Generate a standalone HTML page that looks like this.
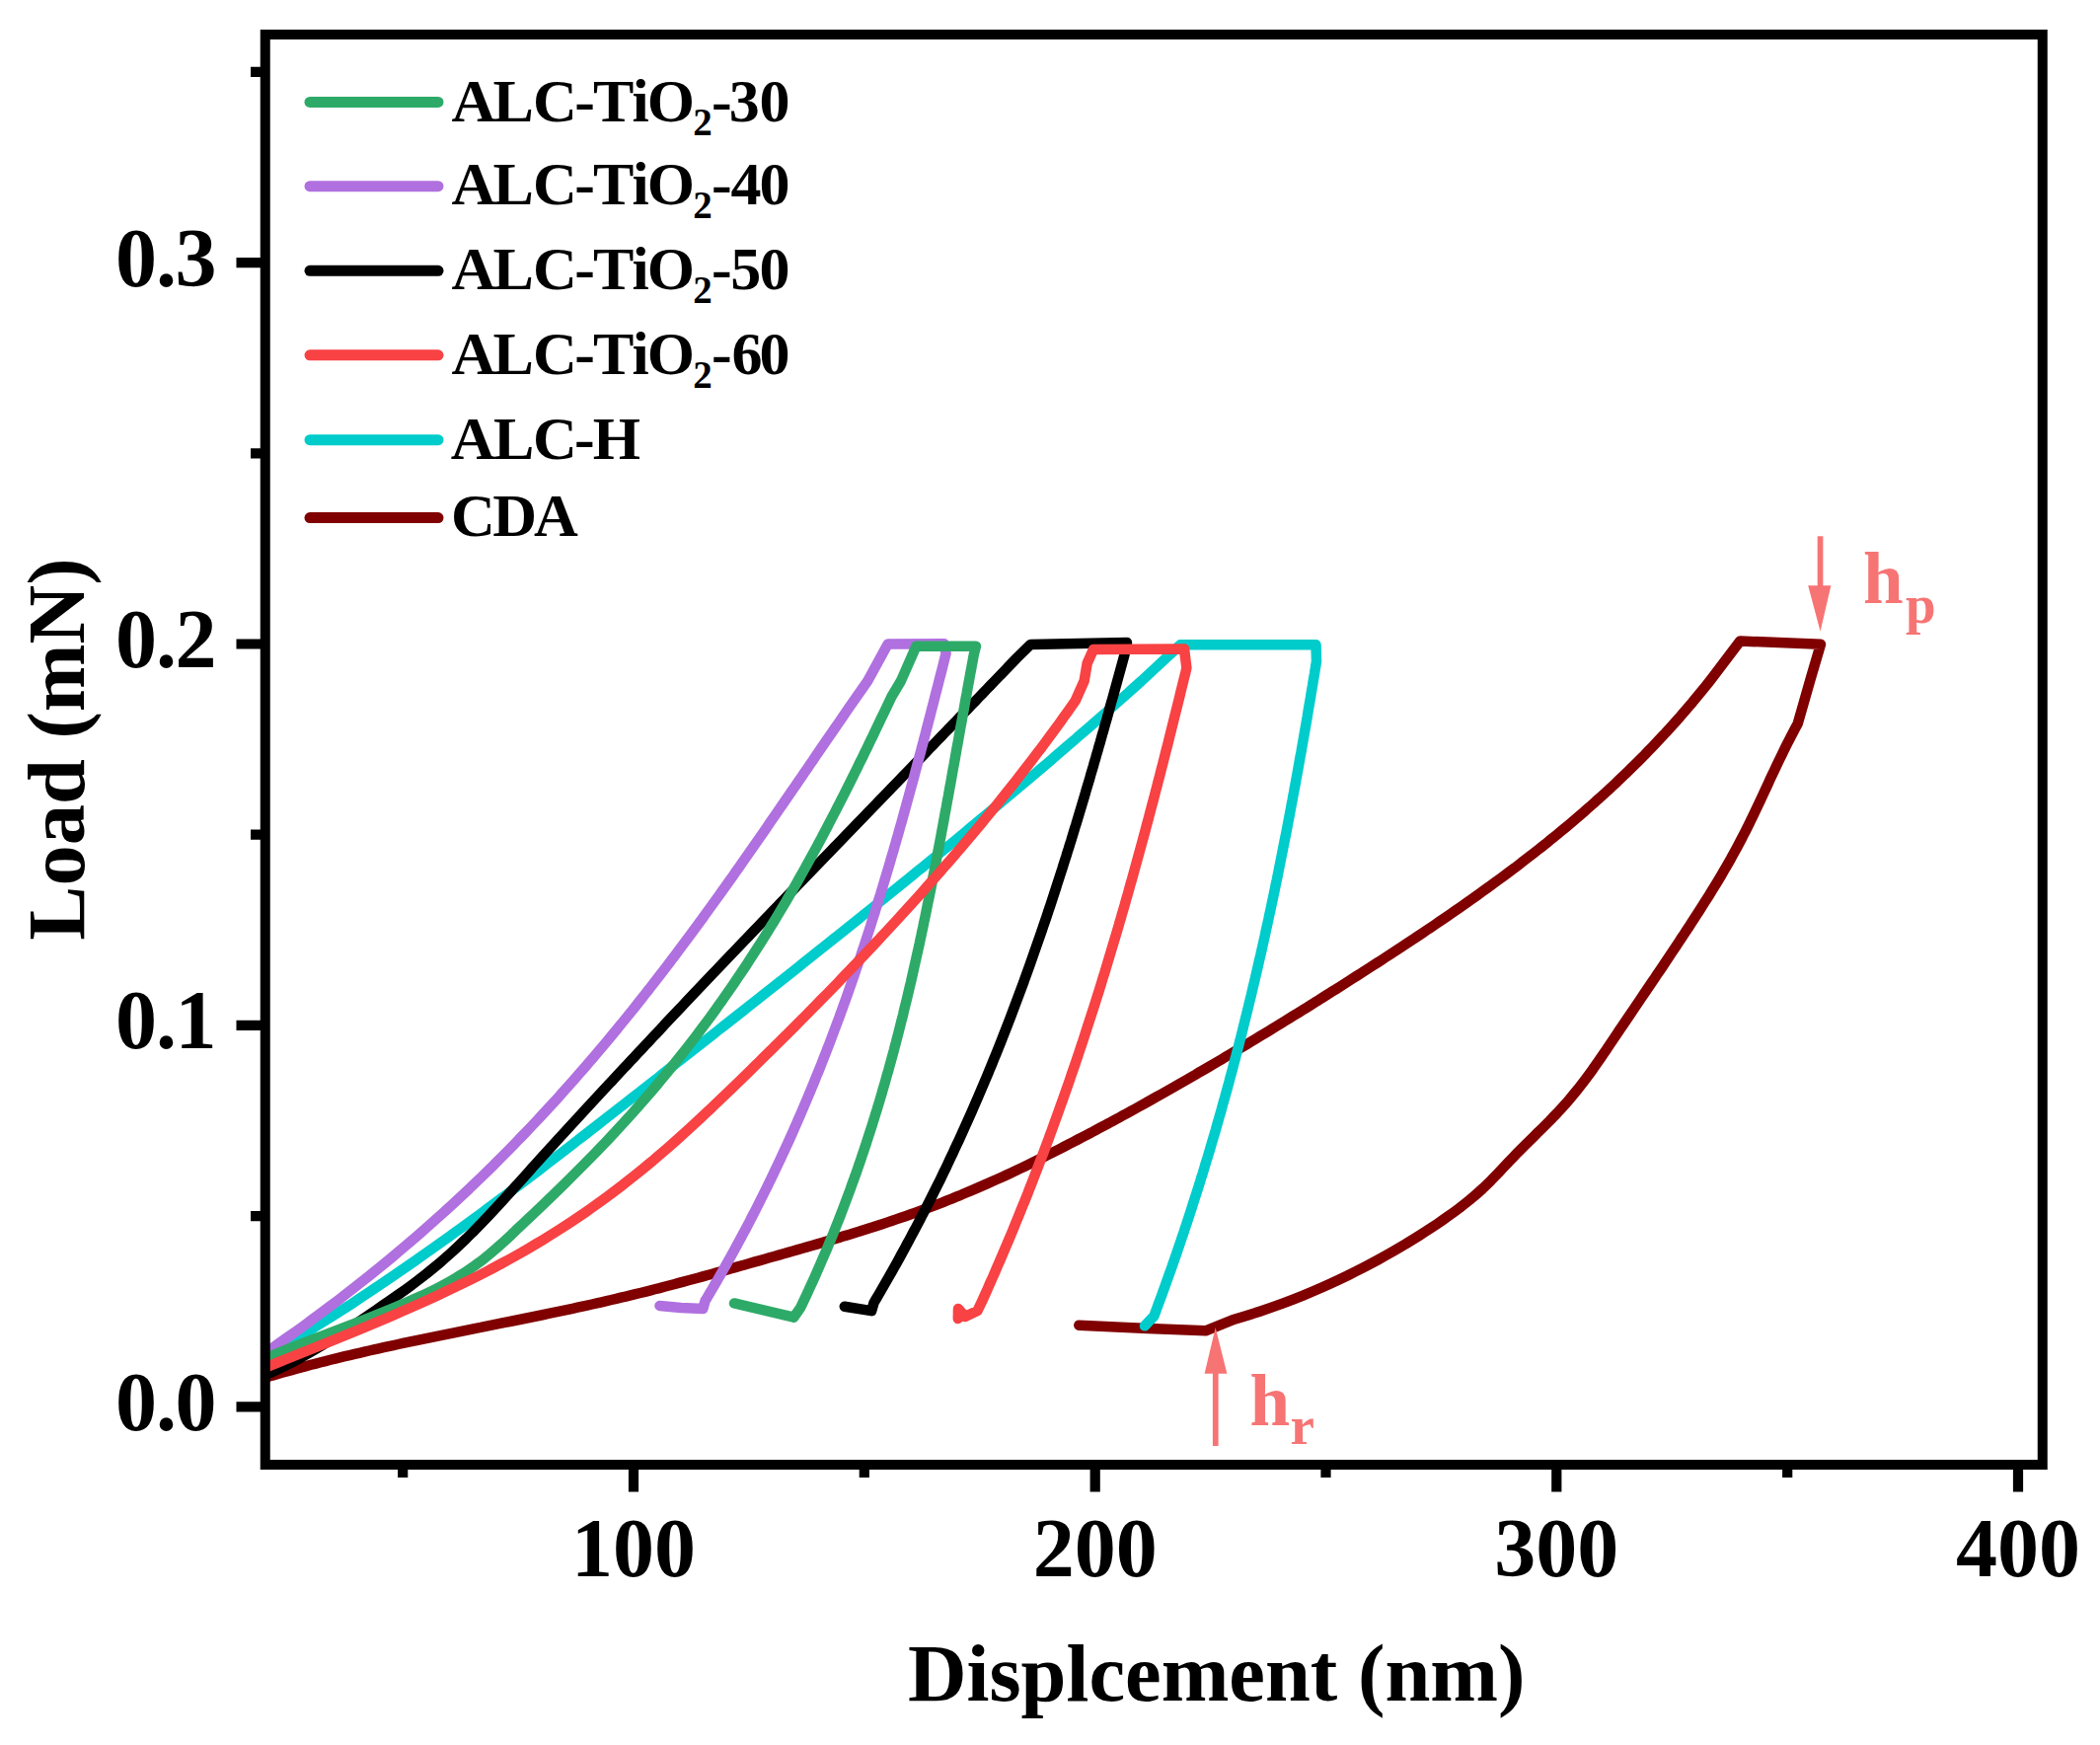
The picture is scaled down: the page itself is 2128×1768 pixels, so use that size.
<!DOCTYPE html>
<html><head><meta charset="utf-8"><title>Load-Displacement</title>
<style>html,body{margin:0;padding:0;background:#fff;overflow:hidden;}svg{display:block;}
text{font-family:'Liberation Serif', 'Times New Roman', serif;font-weight:bold;}</style></head>
<body><svg width="2128" height="1768" viewBox="0 0 2128 1768">
<rect width="2128" height="1768" fill="#fff"/>
<defs><clipPath id="pa"><rect x="269" y="35" width="1800" height="1449"/></clipPath></defs>

<g clip-path="url(#pa)" fill="none" stroke-width="10.5" stroke-linejoin="round" stroke-linecap="round">
<polyline stroke="#800000" points="261.4,1398.0 266.3,1396.5 271.2,1395.1 276.0,1393.6 280.9,1392.2 285.8,1390.8 290.7,1389.4 295.6,1388.1 300.5,1386.7 305.4,1385.4 310.3,1384.1 315.2,1382.8 320.1,1381.6 325.0,1380.3 329.9,1379.1 334.8,1377.8 339.7,1376.6 344.6,1375.4 349.5,1374.2 354.4,1373.1 359.3,1371.9 364.2,1370.8 369.1,1369.6 374.0,1368.5 378.9,1367.4 383.8,1366.3 388.8,1365.2 393.7,1364.1 398.6,1363.1 403.5,1362.0 408.4,1360.9 413.3,1359.9 418.2,1358.9 423.2,1357.8 428.1,1356.8 433.0,1355.8 437.9,1354.8 442.8,1353.8 447.7,1352.8 452.6,1351.8 457.6,1350.8 462.5,1349.8 467.4,1348.8 472.3,1347.8 477.2,1346.8 482.1,1345.8 487.1,1344.9 492.0,1343.9 496.9,1342.9 501.8,1341.9 506.7,1340.9 511.6,1339.9 516.5,1339.0 521.4,1338.0 526.4,1337.0 531.3,1336.0 536.2,1335.0 541.1,1334.0 546.0,1333.0 550.9,1332.0 555.8,1330.9 560.7,1329.9 565.6,1328.9 570.5,1327.9 575.4,1326.8 580.3,1325.8 585.2,1324.7 590.1,1323.6 595.0,1322.6 599.9,1321.5 604.8,1320.4 609.7,1319.3 614.6,1318.2 619.5,1317.0 624.4,1315.9 629.2,1314.7 634.1,1313.6 639.0,1312.4 643.9,1311.2 648.8,1310.0 653.7,1308.8 658.5,1307.6 663.4,1306.3 668.3,1305.1 673.1,1303.8 678.0,1302.5 682.9,1301.2 687.7,1299.9 692.6,1298.6 697.5,1297.3 702.3,1296.0 707.2,1294.7 712.0,1293.4 716.9,1292.0 721.7,1290.7 726.5,1289.3 731.4,1288.0 736.2,1286.6 741.1,1285.3 745.9,1283.9 750.7,1282.5 755.5,1281.2 760.4,1279.8 765.2,1278.4 770.0,1277.1 774.8,1275.7 779.6,1274.3 784.4,1273.0 789.2,1271.6 794.0,1270.2 798.8,1268.9 803.6,1267.5 808.4,1266.1 813.2,1264.7 818.0,1263.4 822.8,1262.0 827.6,1260.6 832.3,1259.2 837.1,1257.8 841.9,1256.4 846.6,1255.0 851.4,1253.6 856.1,1252.1 860.9,1250.7 865.6,1249.2 870.4,1247.8 875.1,1246.3 879.8,1244.8 884.6,1243.3 889.3,1241.7 894.0,1240.2 898.7,1238.6 903.5,1237.0 908.2,1235.4 912.9,1233.8 917.6,1232.2 922.3,1230.5 926.9,1228.8 931.6,1227.1 936.3,1225.4 941.0,1223.6 945.7,1221.9 950.3,1220.1 955.0,1218.3 959.6,1216.4 964.3,1214.6 968.9,1212.7 973.6,1210.8 978.2,1208.8 982.8,1206.9 987.5,1204.9 992.1,1202.9 996.7,1200.9 1001.3,1198.9 1005.9,1196.8 1010.5,1194.8 1015.1,1192.7 1019.7,1190.6 1024.3,1188.4 1028.9,1186.3 1033.4,1184.1 1038.0,1181.9 1042.6,1179.7 1047.1,1177.5 1051.7,1175.2 1056.2,1173.0 1060.7,1170.7 1065.3,1168.4 1069.8,1166.1 1074.3,1163.8 1078.8,1161.5 1083.3,1159.2 1087.8,1156.9 1092.3,1154.5 1096.8,1152.2 1101.3,1149.8 1105.8,1147.5 1110.2,1145.1 1114.7,1142.7 1119.1,1140.3 1123.6,1138.0 1128.0,1135.6 1132.5,1133.2 1136.9,1130.7 1141.4,1128.3 1145.8,1125.9 1150.2,1123.5 1154.6,1121.0 1159.0,1118.6 1163.4,1116.1 1167.8,1113.6 1172.2,1111.2 1176.6,1108.7 1181.0,1106.2 1185.4,1103.7 1189.8,1101.2 1194.1,1098.7 1198.5,1096.2 1202.9,1093.7 1207.2,1091.2 1211.6,1088.7 1215.9,1086.1 1220.3,1083.6 1224.6,1081.1 1229.0,1078.5 1233.3,1076.0 1237.7,1073.4 1242.0,1070.8 1246.3,1068.3 1250.6,1065.7 1255.0,1063.1 1259.3,1060.5 1263.6,1057.9 1267.9,1055.3 1272.2,1052.7 1276.5,1050.1 1280.8,1047.5 1285.1,1044.9 1289.4,1042.3 1293.7,1039.6 1298.0,1037.0 1302.2,1034.4 1306.5,1031.7 1310.8,1029.1 1315.1,1026.5 1319.3,1023.8 1323.6,1021.2 1327.9,1018.5 1332.1,1015.8 1336.4,1013.2 1340.6,1010.5 1344.9,1007.8 1349.1,1005.1 1353.4,1002.5 1357.6,999.8 1361.8,997.1 1366.1,994.4 1370.3,991.7 1374.5,989.0 1378.7,986.3 1382.9,983.6 1387.2,980.9 1391.4,978.2 1395.6,975.5 1399.8,972.8 1404.0,970.0 1408.1,967.3 1412.3,964.6 1416.5,961.8 1420.7,959.1 1424.8,956.4 1429.0,953.6 1433.2,950.9 1437.3,948.1 1441.5,945.3 1445.6,942.5 1449.7,939.8 1453.9,937.0 1458.0,934.2 1462.1,931.4 1466.2,928.6 1470.3,925.7 1474.4,922.9 1478.5,920.1 1482.6,917.2 1486.6,914.4 1490.7,911.5 1494.8,908.6 1498.8,905.7 1502.8,902.8 1506.9,899.9 1510.9,897.0 1514.9,894.1 1518.9,891.1 1522.9,888.2 1526.9,885.2 1530.9,882.2 1534.9,879.3 1538.8,876.3 1542.8,873.2 1546.7,870.2 1550.6,867.2 1554.6,864.1 1558.5,861.0 1562.4,858.0 1566.3,854.9 1570.1,851.7 1574.0,848.6 1577.9,845.5 1581.7,842.3 1585.6,839.1 1589.4,835.9 1593.2,832.7 1597.0,829.5 1600.8,826.2 1604.6,823.0 1608.3,819.7 1612.1,816.4 1615.8,813.1 1619.5,809.7 1623.3,806.4 1627.0,803.0 1630.7,799.6 1634.3,796.2 1638.0,792.8 1641.6,789.3 1645.3,785.8 1648.9,782.4 1652.5,778.8 1656.1,775.3 1659.7,771.7 1663.2,768.2 1666.8,764.6 1670.3,760.9 1673.8,757.3 1677.3,753.6 1680.8,749.9 1684.3,746.2 1687.8,742.5 1691.2,738.7 1694.6,734.9 1698.1,731.1 1701.5,727.3 1704.8,723.4 1708.2,719.5 1711.5,715.6 1714.9,711.7 1718.2,707.7 1721.5,703.7 1724.8,699.7 1728.0,695.7 1731.3,691.6 1734.5,687.5 1763.3,649.5 1845.0,652.7 1835.0,686.7 1821.7,733.3 1819.5,737.3 1817.4,741.3 1815.2,745.4 1813.2,749.4 1811.1,753.4 1809.1,757.4 1807.1,761.5 1805.2,765.5 1803.2,769.5 1801.3,773.5 1799.4,777.5 1797.5,781.6 1795.6,785.6 1793.7,789.6 1791.9,793.6 1790.0,797.7 1788.1,801.7 1786.3,805.7 1784.4,809.7 1782.5,813.8 1780.6,817.8 1778.7,821.8 1776.8,825.8 1774.8,829.8 1772.9,833.9 1770.9,837.9 1768.9,841.9 1766.8,845.9 1764.7,850.0 1762.6,854.0 1760.5,858.0 1758.3,862.0 1756.1,866.0 1753.9,870.1 1751.6,874.1 1749.3,878.1 1746.9,882.1 1744.6,886.2 1742.2,890.2 1739.8,894.2 1737.3,898.2 1734.8,902.3 1732.4,906.3 1729.8,910.3 1727.3,914.3 1724.8,918.3 1722.2,922.4 1719.6,926.4 1717.0,930.4 1714.4,934.4 1711.8,938.5 1709.1,942.5 1706.5,946.5 1703.8,950.5 1701.2,954.5 1698.5,958.6 1695.8,962.6 1693.1,966.6 1690.5,970.6 1687.8,974.7 1685.1,978.7 1682.4,982.7 1679.6,986.7 1676.9,990.8 1674.2,994.8 1671.5,998.8 1668.8,1002.8 1666.1,1006.8 1663.3,1010.9 1660.6,1014.9 1657.9,1018.9 1655.2,1022.9 1652.4,1027.0 1649.7,1031.0 1647.0,1035.0 1644.3,1039.0 1641.5,1043.0 1638.8,1047.1 1636.1,1051.1 1633.4,1055.1 1630.7,1059.1 1628.0,1063.2 1625.2,1067.2 1622.5,1071.2 1619.7,1075.2 1616.9,1079.2 1614.1,1083.3 1611.2,1087.3 1608.2,1091.3 1605.2,1095.3 1602.1,1099.4 1599.0,1103.4 1595.7,1107.4 1592.4,1111.4 1589.0,1115.5 1585.4,1119.5 1581.8,1123.5 1578.1,1127.5 1574.2,1131.5 1570.3,1135.6 1566.3,1139.6 1562.3,1143.6 1558.2,1147.6 1554.1,1151.7 1550.0,1155.7 1545.9,1159.7 1541.9,1163.7 1537.9,1167.7 1534.0,1171.8 1530.1,1175.8 1526.3,1179.8 1522.6,1183.8 1518.8,1187.9 1514.9,1191.9 1511.0,1195.9 1506.9,1199.9 1502.7,1204.0 1498.3,1208.0 1493.7,1212.0 1488.9,1216.0 1483.9,1220.0 1478.7,1224.1 1473.3,1228.1 1467.7,1232.1 1462.0,1236.1 1456.1,1240.2 1450.1,1244.2 1443.9,1248.2 1437.6,1252.2 1431.1,1256.2 1424.6,1260.3 1417.8,1264.3 1410.9,1268.3 1403.8,1272.3 1396.5,1276.4 1389.0,1280.4 1381.4,1284.4 1373.4,1288.4 1365.3,1292.5 1356.9,1296.5 1348.3,1300.5 1339.4,1304.5 1330.1,1308.5 1320.4,1312.6 1310.3,1316.6 1299.7,1320.6 1288.5,1324.6 1276.6,1328.7 1264.1,1332.7 1250.8,1336.7 1221.7,1348.3 1163.3,1346.0 1093.3,1342.7"/>
<polyline stroke="#00cccc" points="262.1,1377.0 269.5,1373.0 276.9,1369.0 284.1,1364.9 291.2,1360.9 298.2,1356.9 305.0,1352.9 311.8,1348.9 318.5,1344.9 325.0,1340.8 331.5,1336.8 337.9,1332.8 344.2,1328.8 350.5,1324.8 356.7,1320.8 362.8,1316.7 368.8,1312.7 374.9,1308.7 380.8,1304.7 386.8,1300.7 392.7,1296.6 398.6,1292.6 404.4,1288.6 410.2,1284.6 416.0,1280.6 421.8,1276.6 427.5,1272.5 433.2,1268.5 438.9,1264.5 444.5,1260.5 450.2,1256.5 455.8,1252.5 461.3,1248.4 466.9,1244.4 472.4,1240.4 477.9,1236.4 483.4,1232.4 488.9,1228.4 494.4,1224.3 499.8,1220.3 505.2,1216.3 510.6,1212.3 516.0,1208.3 521.3,1204.2 526.7,1200.2 532.0,1196.2 537.3,1192.2 542.6,1188.2 547.9,1184.2 553.1,1180.1 558.4,1176.1 563.6,1172.1 568.9,1168.1 574.1,1164.1 579.3,1160.1 584.5,1156.0 589.7,1152.0 594.9,1148.0 600.0,1144.0 605.2,1140.0 610.4,1135.9 615.5,1131.9 620.7,1127.9 625.8,1123.9 631.0,1119.9 636.1,1115.9 641.2,1111.8 646.4,1107.8 651.5,1103.8 656.6,1099.8 661.7,1095.8 666.9,1091.8 672.0,1087.7 677.1,1083.7 682.2,1079.7 687.4,1075.7 692.5,1071.7 697.6,1067.6 702.7,1063.6 707.8,1059.6 713.0,1055.6 718.1,1051.6 723.2,1047.6 728.3,1043.5 733.4,1039.5 738.5,1035.5 743.6,1031.5 748.7,1027.5 753.8,1023.5 758.9,1019.4 764.0,1015.4 769.1,1011.4 774.1,1007.4 779.2,1003.4 784.3,999.4 789.4,995.3 794.5,991.3 799.5,987.3 804.6,983.3 809.6,979.3 814.7,975.2 819.8,971.2 824.8,967.2 829.8,963.2 834.9,959.2 839.9,955.2 844.9,951.1 850.0,947.1 855.0,943.1 860.0,939.1 865.0,935.1 870.0,931.1 875.0,927.0 880.0,923.0 885.0,919.0 890.0,915.0 895.0,911.0 899.9,906.9 904.9,902.9 909.9,898.9 914.8,894.9 919.8,890.9 924.7,886.9 929.6,882.8 934.6,878.8 939.5,874.8 944.4,870.8 949.3,866.8 954.2,862.8 959.1,858.7 964.0,854.7 968.9,850.7 973.7,846.7 978.6,842.7 983.4,838.6 988.3,834.6 993.1,830.6 998.0,826.6 1002.8,822.6 1007.6,818.6 1012.4,814.5 1017.2,810.5 1022.0,806.5 1026.8,802.5 1031.5,798.5 1036.3,794.5 1041.1,790.4 1045.8,786.4 1050.5,782.4 1055.3,778.4 1060.0,774.4 1064.7,770.4 1069.4,766.3 1074.1,762.3 1078.7,758.3 1083.4,754.3 1088.1,750.3 1092.7,746.2 1097.3,742.2 1102.0,738.2 1106.6,734.2 1111.2,730.2 1115.8,726.2 1120.4,722.1 1124.9,718.1 1129.5,714.1 1134.0,710.1 1138.6,706.1 1143.1,702.1 1147.6,698.0 1152.1,694.0 1156.6,690.0 1196.0,653.3 1333.5,653.3 1334.0,670.0 1333.4,674.0 1332.7,678.0 1332.1,682.1 1331.4,686.1 1330.7,690.1 1330.1,694.1 1329.4,698.1 1328.7,702.2 1328.1,706.2 1327.4,710.2 1326.7,714.2 1326.0,718.2 1325.3,722.3 1324.7,726.3 1324.0,730.3 1323.3,734.3 1322.6,738.3 1321.9,742.4 1321.2,746.4 1320.5,750.4 1319.8,754.4 1319.1,758.4 1318.4,762.5 1317.6,766.5 1316.9,770.5 1316.2,774.5 1315.5,778.5 1314.8,782.6 1314.0,786.6 1313.3,790.6 1312.6,794.6 1311.8,798.6 1311.1,802.7 1310.3,806.7 1309.6,810.7 1308.8,814.7 1308.1,818.7 1307.3,822.8 1306.6,826.8 1305.8,830.8 1305.0,834.8 1304.3,838.8 1303.5,842.9 1302.7,846.9 1301.9,850.9 1301.1,854.9 1300.3,858.9 1299.5,863.0 1298.7,867.0 1297.9,871.0 1297.1,875.0 1296.3,879.0 1295.5,883.1 1294.7,887.1 1293.9,891.1 1293.0,895.1 1292.2,899.1 1291.4,903.2 1290.5,907.2 1289.7,911.2 1288.8,915.2 1288.0,919.2 1287.1,923.3 1286.2,927.3 1285.4,931.3 1284.5,935.3 1283.6,939.3 1282.7,943.4 1281.9,947.4 1281.0,951.4 1280.1,955.4 1279.2,959.4 1278.3,963.5 1277.4,967.5 1276.4,971.5 1275.5,975.5 1274.6,979.5 1273.7,983.6 1272.7,987.6 1271.8,991.6 1270.9,995.6 1269.9,999.6 1268.9,1003.7 1268.0,1007.7 1267.0,1011.7 1266.0,1015.7 1265.1,1019.7 1264.1,1023.8 1263.1,1027.8 1262.1,1031.8 1261.1,1035.8 1260.1,1039.8 1259.1,1043.9 1258.1,1047.9 1257.1,1051.9 1256.0,1055.9 1255.0,1059.9 1254.0,1064.0 1252.9,1068.0 1251.9,1072.0 1250.8,1076.0 1249.8,1080.0 1248.7,1084.1 1247.6,1088.1 1246.5,1092.1 1245.5,1096.1 1244.4,1100.1 1243.3,1104.2 1242.2,1108.2 1241.1,1112.2 1239.9,1116.2 1238.8,1120.2 1237.7,1124.3 1236.6,1128.3 1235.4,1132.3 1234.3,1136.3 1233.1,1140.3 1232.0,1144.4 1230.8,1148.4 1229.6,1152.4 1228.4,1156.4 1227.3,1160.4 1226.1,1164.5 1224.9,1168.5 1223.7,1172.5 1222.4,1176.5 1221.2,1180.5 1220.0,1184.6 1218.8,1188.6 1217.5,1192.6 1216.3,1196.6 1215.0,1200.6 1213.8,1204.7 1212.5,1208.7 1211.2,1212.7 1209.9,1216.7 1208.6,1220.7 1207.3,1224.8 1206.0,1228.8 1204.7,1232.8 1203.4,1236.8 1202.1,1240.8 1200.7,1244.9 1199.4,1248.9 1198.0,1252.9 1196.7,1256.9 1195.3,1260.9 1193.9,1265.0 1192.6,1269.0 1191.2,1273.0 1189.8,1277.0 1188.4,1281.0 1187.0,1285.1 1185.5,1289.1 1184.1,1293.1 1182.7,1297.1 1181.2,1301.1 1179.8,1305.2 1178.3,1309.2 1176.9,1313.2 1175.4,1317.2 1173.9,1321.2 1172.4,1325.3 1170.9,1329.3 1169.4,1333.3 1160.0,1343.3"/>
<polyline stroke="#000000" points="264.7,1395.0 273.8,1391.0 282.4,1387.0 290.6,1383.0 298.4,1379.0 305.8,1375.0 312.9,1371.0 319.8,1367.0 326.5,1363.0 333.0,1359.0 339.3,1355.0 345.5,1351.0 351.7,1347.0 357.7,1343.0 363.7,1339.0 369.7,1335.0 375.6,1331.0 381.5,1327.0 387.4,1322.9 393.3,1318.9 399.1,1314.9 404.8,1310.9 410.4,1306.9 415.9,1302.9 421.3,1298.9 426.5,1294.9 431.7,1290.9 436.6,1286.9 441.5,1282.9 446.2,1278.9 450.8,1274.9 455.4,1270.9 459.8,1266.9 464.1,1262.9 468.3,1258.9 472.5,1254.9 476.5,1250.9 480.6,1246.9 484.5,1242.9 488.4,1238.9 492.2,1234.9 496.0,1230.9 499.7,1226.9 503.4,1222.9 507.1,1218.9 510.7,1214.9 514.3,1210.9 517.9,1206.9 521.6,1202.9 525.2,1198.9 528.8,1194.9 532.4,1190.9 536.0,1186.9 539.6,1182.8 543.3,1178.8 546.9,1174.8 550.5,1170.8 554.2,1166.8 557.8,1162.8 561.5,1158.8 565.1,1154.8 568.8,1150.8 572.5,1146.8 576.1,1142.8 579.8,1138.8 583.5,1134.8 587.2,1130.8 590.8,1126.8 594.5,1122.8 598.2,1118.8 601.9,1114.8 605.6,1110.8 609.3,1106.8 613.0,1102.8 616.7,1098.8 620.5,1094.8 624.2,1090.8 627.9,1086.8 631.6,1082.8 635.4,1078.8 639.1,1074.8 642.9,1070.8 646.6,1066.8 650.4,1062.8 654.1,1058.8 657.9,1054.8 661.6,1050.8 665.4,1046.8 669.2,1042.8 672.9,1038.7 676.7,1034.7 680.5,1030.7 684.3,1026.7 688.1,1022.7 691.8,1018.7 695.6,1014.7 699.4,1010.7 703.2,1006.7 707.0,1002.7 710.8,998.7 714.6,994.7 718.4,990.7 722.2,986.7 726.1,982.7 729.9,978.7 733.7,974.7 737.5,970.7 741.3,966.7 745.2,962.7 749.0,958.7 752.8,954.7 756.7,950.7 760.5,946.7 764.3,942.7 768.2,938.7 772.0,934.7 775.8,930.7 779.7,926.7 783.5,922.7 787.4,918.7 791.2,914.7 795.1,910.7 798.9,906.7 802.8,902.7 806.6,898.6 810.5,894.6 814.3,890.6 818.2,886.6 822.1,882.6 825.9,878.6 829.8,874.6 833.6,870.6 837.5,866.6 841.4,862.6 845.2,858.6 849.1,854.6 853.0,850.6 856.8,846.6 860.7,842.6 864.6,838.6 868.4,834.6 872.3,830.6 876.2,826.6 880.0,822.6 883.9,818.6 887.8,814.6 891.6,810.6 895.5,806.6 899.4,802.6 903.2,798.6 907.1,794.6 911.0,790.6 914.8,786.6 918.7,782.6 922.6,778.6 926.4,774.6 930.3,770.6 934.2,766.6 938.0,762.6 941.9,758.5 945.8,754.5 949.6,750.5 953.5,746.5 957.3,742.5 961.2,738.5 965.1,734.5 968.9,730.5 972.8,726.5 976.6,722.5 980.5,718.5 984.3,714.5 988.2,710.5 992.0,706.5 995.9,702.5 999.7,698.5 1003.6,694.5 1007.4,690.5 1030.0,667.0 1044.3,653.0 1142.0,651.0 1139.5,663.3 1138.4,667.3 1137.3,671.3 1136.2,675.3 1135.1,679.3 1134.0,683.3 1132.9,687.3 1131.8,691.3 1130.7,695.3 1129.6,699.3 1128.5,703.3 1127.4,707.3 1126.2,711.4 1125.1,715.4 1124.0,719.4 1122.9,723.4 1121.8,727.4 1120.6,731.4 1119.5,735.4 1118.4,739.4 1117.2,743.4 1116.1,747.4 1115.0,751.4 1113.8,755.4 1112.7,759.4 1111.5,763.4 1110.4,767.4 1109.2,771.4 1108.1,775.4 1106.9,779.4 1105.7,783.4 1104.6,787.4 1103.4,791.4 1102.2,795.4 1101.0,799.4 1099.9,803.4 1098.7,807.5 1097.5,811.5 1096.3,815.5 1095.1,819.5 1093.9,823.5 1092.7,827.5 1091.5,831.5 1090.3,835.5 1089.0,839.5 1087.8,843.5 1086.6,847.5 1085.4,851.5 1084.1,855.5 1082.9,859.5 1081.6,863.5 1080.4,867.5 1079.1,871.5 1077.8,875.5 1076.6,879.5 1075.3,883.5 1074.0,887.5 1072.7,891.5 1071.4,895.5 1070.1,899.6 1068.8,903.6 1067.5,907.6 1066.2,911.6 1064.9,915.6 1063.6,919.6 1062.2,923.6 1060.9,927.6 1059.6,931.6 1058.2,935.6 1056.8,939.6 1055.5,943.6 1054.1,947.6 1052.7,951.6 1051.3,955.6 1049.9,959.6 1048.5,963.6 1047.1,967.6 1045.7,971.6 1044.3,975.6 1042.9,979.6 1041.4,983.6 1040.0,987.6 1038.5,991.6 1037.1,995.7 1035.6,999.7 1034.1,1003.7 1032.6,1007.7 1031.1,1011.7 1029.6,1015.7 1028.1,1019.7 1026.6,1023.7 1025.1,1027.7 1023.6,1031.7 1022.0,1035.7 1020.5,1039.7 1018.9,1043.7 1017.3,1047.7 1015.8,1051.7 1014.2,1055.7 1012.6,1059.7 1011.0,1063.7 1009.4,1067.7 1007.7,1071.7 1006.1,1075.7 1004.5,1079.7 1002.8,1083.7 1001.2,1087.8 999.5,1091.8 997.8,1095.8 996.1,1099.8 994.4,1103.8 992.7,1107.8 991.0,1111.8 989.2,1115.8 987.5,1119.8 985.8,1123.8 984.0,1127.8 982.2,1131.8 980.4,1135.8 978.6,1139.8 976.8,1143.8 975.0,1147.8 973.2,1151.8 971.4,1155.8 969.5,1159.8 967.6,1163.8 965.8,1167.8 963.9,1171.8 962.0,1175.8 960.1,1179.9 958.2,1183.9 956.2,1187.9 954.3,1191.9 952.4,1195.9 950.4,1199.9 948.4,1203.9 946.4,1207.9 944.4,1211.9 942.4,1215.9 940.4,1219.9 938.3,1223.9 936.3,1227.9 934.2,1231.9 932.2,1235.9 930.1,1239.9 928.0,1243.9 925.8,1247.9 923.7,1251.9 921.6,1255.9 919.4,1259.9 917.3,1263.9 915.1,1267.9 912.9,1271.9 910.7,1276.0 908.5,1280.0 906.2,1284.0 904.0,1288.0 901.7,1292.0 899.4,1296.0 897.1,1300.0 894.8,1304.0 892.5,1308.0 890.2,1312.0 887.8,1316.0 885.5,1320.0 883.2,1328.1 855.8,1323.7"/>
<polyline stroke="#b070df" points="265.4,1373.0 271.3,1369.0 277.1,1365.0 282.9,1360.9 288.6,1356.9 294.3,1352.9 299.9,1348.9 305.5,1344.9 311.0,1340.9 316.5,1336.8 322.0,1332.8 327.4,1328.8 332.7,1324.8 338.1,1320.8 343.3,1316.8 348.6,1312.7 353.8,1308.7 358.9,1304.7 364.0,1300.7 369.1,1296.7 374.2,1292.6 379.1,1288.6 384.1,1284.6 389.0,1280.6 393.9,1276.6 398.7,1272.6 403.5,1268.5 408.3,1264.5 413.0,1260.5 417.7,1256.5 422.4,1252.5 427.0,1248.5 431.6,1244.4 436.1,1240.4 440.6,1236.4 445.1,1232.4 449.6,1228.4 454.0,1224.3 458.4,1220.3 462.7,1216.3 467.0,1212.3 471.3,1208.3 475.6,1204.3 479.8,1200.2 484.0,1196.2 488.2,1192.2 492.3,1188.2 496.4,1184.2 500.5,1180.2 504.5,1176.1 508.5,1172.1 512.5,1168.1 516.5,1164.1 520.4,1160.1 524.3,1156.0 528.2,1152.0 532.1,1148.0 535.9,1144.0 539.7,1140.0 543.5,1136.0 547.3,1131.9 551.0,1127.9 554.7,1123.9 558.4,1119.9 562.1,1115.9 565.7,1111.9 569.3,1107.8 572.9,1103.8 576.5,1099.8 580.1,1095.8 583.6,1091.8 587.1,1087.7 590.6,1083.7 594.1,1079.7 597.5,1075.7 601.0,1071.7 604.4,1067.7 607.8,1063.6 611.2,1059.6 614.6,1055.6 617.9,1051.6 621.2,1047.6 624.5,1043.6 627.8,1039.5 631.1,1035.5 634.4,1031.5 637.6,1027.5 640.9,1023.5 644.1,1019.4 647.3,1015.4 650.5,1011.4 653.6,1007.4 656.8,1003.4 659.9,999.4 663.1,995.3 666.2,991.3 669.3,987.3 672.4,983.3 675.4,979.3 678.5,975.3 681.5,971.2 684.6,967.2 687.6,963.2 690.6,959.2 693.6,955.2 696.6,951.1 699.6,947.1 702.5,943.1 705.5,939.1 708.4,935.1 711.4,931.1 714.3,927.0 717.2,923.0 720.1,919.0 723.0,915.0 725.9,911.0 728.8,907.0 731.7,902.9 734.5,898.9 737.4,894.9 740.3,890.9 743.1,886.9 745.9,882.8 748.8,878.8 751.6,874.8 754.4,870.8 757.2,866.8 760.0,862.8 762.8,858.7 765.6,854.7 768.4,850.7 771.2,846.7 774.0,842.7 776.8,838.7 779.5,834.6 782.3,830.6 785.1,826.6 787.8,822.6 790.6,818.6 793.4,814.5 796.1,810.5 798.9,806.5 801.6,802.5 804.4,798.5 807.2,794.5 809.9,790.4 812.7,786.4 815.4,782.4 818.2,778.4 820.9,774.4 823.7,770.4 826.4,766.3 829.2,762.3 831.9,758.3 834.7,754.3 837.4,750.3 840.2,746.2 843.0,742.2 845.7,738.2 848.5,734.2 851.3,730.2 854.0,726.2 856.8,722.1 859.6,718.1 862.4,714.1 865.2,710.1 868.0,706.1 870.8,702.1 873.6,698.0 876.4,694.0 879.2,690.0 899.7,652.5 956.5,652.2 958.6,662.0 957.6,666.0 956.6,670.0 955.6,674.0 954.6,678.0 953.6,682.0 952.5,686.0 951.5,690.0 950.5,694.0 949.5,698.0 948.4,702.0 947.4,706.0 946.4,710.0 945.4,714.0 944.3,718.0 943.3,722.0 942.3,726.0 941.2,730.0 940.2,734.0 939.1,738.0 938.1,742.0 937.1,746.0 936.0,750.0 935.0,754.0 933.9,758.0 932.9,762.0 931.8,766.0 930.7,770.0 929.7,774.0 928.6,778.0 927.5,782.0 926.5,786.0 925.4,790.0 924.3,794.0 923.2,798.0 922.1,802.0 921.0,806.0 919.9,810.0 918.8,814.0 917.7,818.0 916.6,822.0 915.5,826.0 914.4,830.0 913.3,834.0 912.1,838.0 911.0,842.0 909.9,846.0 908.7,850.0 907.6,854.0 906.4,858.0 905.3,862.0 904.1,866.0 902.9,870.0 901.8,874.0 900.6,878.0 899.4,882.0 898.2,886.0 897.0,890.0 895.8,894.0 894.6,898.0 893.4,902.0 892.2,906.0 890.9,910.0 889.7,914.0 888.5,918.0 887.2,922.0 886.0,926.0 884.7,930.0 883.4,934.0 882.2,938.0 880.9,942.0 879.6,946.0 878.3,950.0 877.0,954.0 875.7,958.0 874.4,962.0 873.0,966.0 871.7,970.0 870.4,974.0 869.0,978.0 867.6,982.0 866.3,986.0 864.9,990.0 863.5,994.0 862.1,998.0 860.7,1002.0 859.3,1006.0 857.9,1010.0 856.5,1014.0 855.0,1018.0 853.6,1022.0 852.1,1026.0 850.7,1030.0 849.2,1034.0 847.7,1038.0 846.2,1042.0 844.7,1046.0 843.2,1050.0 841.7,1054.0 840.2,1058.0 838.6,1062.0 837.1,1066.0 835.5,1070.0 833.9,1074.0 832.4,1078.0 830.8,1082.0 829.2,1086.0 827.5,1090.0 825.9,1094.0 824.3,1098.0 822.6,1102.0 821.0,1106.0 819.3,1110.0 817.6,1114.0 815.9,1118.0 814.2,1122.0 812.5,1126.0 810.8,1130.0 809.0,1134.0 807.3,1138.0 805.5,1142.0 803.8,1146.0 802.0,1150.0 800.2,1154.0 798.4,1158.0 796.5,1162.0 794.7,1166.0 792.8,1170.0 791.0,1174.0 789.1,1178.0 787.2,1182.0 785.3,1186.0 783.4,1190.0 781.5,1194.0 779.5,1198.0 777.6,1202.0 775.6,1206.0 773.6,1210.0 771.6,1214.0 769.6,1218.0 767.6,1222.0 765.6,1226.0 763.5,1230.0 761.4,1234.0 759.4,1238.0 757.3,1242.0 755.2,1246.0 753.0,1250.0 750.9,1254.0 748.7,1258.0 746.6,1262.0 744.4,1266.0 742.2,1270.0 740.0,1274.0 737.7,1278.0 735.5,1282.0 733.2,1286.0 731.0,1290.0 728.7,1294.0 726.4,1298.0 724.0,1302.0 721.7,1306.0 719.3,1310.0 717.0,1314.0 714.6,1318.0 712.3,1326.0 690.0,1325.0 668.5,1323.0"/>
<polyline stroke="#2eaa68" points="261.9,1379.0 271.6,1375.0 281.5,1371.0 291.7,1367.0 302.0,1363.0 312.4,1359.0 322.9,1355.0 333.4,1350.9 343.9,1346.9 354.3,1342.9 364.7,1338.9 374.9,1334.9 384.9,1330.9 394.8,1326.9 404.4,1322.9 413.7,1318.9 422.7,1314.9 431.4,1310.9 439.7,1306.9 447.6,1302.9 455.0,1298.8 462.0,1294.8 468.5,1290.8 474.6,1286.8 480.4,1282.8 485.9,1278.8 491.1,1274.8 496.0,1270.8 500.7,1266.8 505.3,1262.8 509.7,1258.8 514.1,1254.8 518.4,1250.8 522.6,1246.7 526.9,1242.7 531.1,1238.7 535.4,1234.7 539.6,1230.7 543.8,1226.7 548.0,1222.7 552.2,1218.7 556.3,1214.7 560.5,1210.7 564.6,1206.7 568.7,1202.7 572.8,1198.7 576.9,1194.6 580.9,1190.6 584.9,1186.6 588.9,1182.6 592.9,1178.6 596.8,1174.6 600.8,1170.6 604.7,1166.6 608.5,1162.6 612.4,1158.6 616.2,1154.6 619.9,1150.6 623.7,1146.6 627.4,1142.5 631.1,1138.5 634.7,1134.5 638.4,1130.5 642.0,1126.5 645.5,1122.5 649.0,1118.5 652.5,1114.5 656.0,1110.5 659.5,1106.5 662.9,1102.5 666.3,1098.5 669.6,1094.5 673.0,1090.4 676.3,1086.4 679.5,1082.4 682.8,1078.4 686.0,1074.4 689.2,1070.4 692.4,1066.4 695.5,1062.4 698.6,1058.4 701.7,1054.4 704.8,1050.4 707.8,1046.4 710.8,1042.3 713.8,1038.3 716.8,1034.3 719.8,1030.3 722.7,1026.3 725.6,1022.3 728.4,1018.3 731.3,1014.3 734.1,1010.3 736.9,1006.3 739.7,1002.3 742.5,998.3 745.2,994.3 747.9,990.2 750.6,986.2 753.3,982.2 756.0,978.2 758.6,974.2 761.2,970.2 763.8,966.2 766.4,962.2 769.0,958.2 771.5,954.2 774.0,950.2 776.5,946.2 779.0,942.2 781.5,938.1 784.0,934.1 786.4,930.1 788.8,926.1 791.2,922.1 793.6,918.1 796.0,914.1 798.3,910.1 800.6,906.1 803.0,902.1 805.3,898.1 807.6,894.1 809.8,890.1 812.1,886.0 814.4,882.0 816.6,878.0 818.8,874.0 821.0,870.0 823.2,866.0 825.4,862.0 827.6,858.0 829.7,854.0 831.9,850.0 834.0,846.0 836.1,842.0 838.2,838.0 840.3,833.9 842.4,829.9 844.5,825.9 846.6,821.9 848.6,817.9 850.7,813.9 852.7,809.9 854.8,805.9 856.8,801.9 858.8,797.9 860.8,793.9 862.8,789.9 864.8,785.9 866.8,781.8 868.8,777.8 870.7,773.8 872.7,769.8 874.7,765.8 876.6,761.8 878.6,757.8 880.5,753.8 882.4,749.8 884.4,745.8 886.3,741.8 888.2,737.8 890.1,733.8 892.0,729.7 894.0,725.7 895.9,721.7 897.8,717.7 899.7,713.7 901.6,709.7 903.5,705.7 912.9,690.0 928.5,654.7 989.0,654.7 987.1,662.0 986.3,666.0 985.6,670.0 984.8,674.1 984.1,678.1 983.3,682.1 982.6,686.1 981.9,690.1 981.1,694.1 980.4,698.2 979.7,702.2 978.9,706.2 978.2,710.2 977.5,714.2 976.8,718.3 976.0,722.3 975.3,726.3 974.6,730.3 973.9,734.3 973.1,738.3 972.4,742.4 971.7,746.4 971.0,750.4 970.3,754.4 969.5,758.4 968.8,762.5 968.1,766.5 967.4,770.5 966.7,774.5 965.9,778.5 965.2,782.5 964.5,786.6 963.8,790.6 963.1,794.6 962.3,798.6 961.6,802.6 960.9,806.7 960.1,810.7 959.4,814.7 958.7,818.7 957.9,822.7 957.2,826.7 956.5,830.8 955.7,834.8 955.0,838.8 954.2,842.8 953.5,846.8 952.7,850.9 952.0,854.9 951.2,858.9 950.5,862.9 949.7,866.9 948.9,870.9 948.2,875.0 947.4,879.0 946.6,883.0 945.8,887.0 945.0,891.0 944.3,895.1 943.5,899.1 942.7,903.1 941.9,907.1 941.1,911.1 940.2,915.1 939.4,919.2 938.6,923.2 937.8,927.2 937.0,931.2 936.1,935.2 935.3,939.3 934.4,943.3 933.6,947.3 932.7,951.3 931.9,955.3 931.0,959.3 930.1,963.4 929.2,967.4 928.3,971.4 927.4,975.4 926.5,979.4 925.6,983.5 924.7,987.5 923.8,991.5 922.9,995.5 921.9,999.5 921.0,1003.5 920.0,1007.6 919.1,1011.6 918.1,1015.6 917.1,1019.6 916.1,1023.6 915.2,1027.7 914.2,1031.7 913.1,1035.7 912.1,1039.7 911.1,1043.7 910.1,1047.7 909.0,1051.8 908.0,1055.8 906.9,1059.8 905.9,1063.8 904.8,1067.8 903.7,1071.9 902.6,1075.9 901.5,1079.9 900.4,1083.9 899.2,1087.9 898.1,1091.9 897.0,1096.0 895.8,1100.0 894.6,1104.0 893.5,1108.0 892.3,1112.0 891.1,1116.1 889.9,1120.1 888.7,1124.1 887.4,1128.1 886.2,1132.1 884.9,1136.1 883.7,1140.2 882.4,1144.2 881.1,1148.2 879.8,1152.2 878.5,1156.2 877.2,1160.3 875.8,1164.3 874.5,1168.3 873.1,1172.3 871.8,1176.3 870.4,1180.3 869.0,1184.4 867.6,1188.4 866.1,1192.4 864.7,1196.4 863.2,1200.4 861.8,1204.5 860.3,1208.5 858.8,1212.5 857.3,1216.5 855.8,1220.5 854.3,1224.5 852.7,1228.6 851.2,1232.6 849.6,1236.6 848.0,1240.6 846.4,1244.6 844.8,1248.7 843.1,1252.7 841.5,1256.7 839.8,1260.7 838.2,1264.7 836.5,1268.7 834.7,1272.8 833.0,1276.8 831.3,1280.8 829.5,1284.8 827.8,1288.8 826.0,1292.9 824.2,1296.9 822.3,1300.9 820.5,1304.9 818.7,1308.9 816.8,1312.9 814.9,1317.0 813.0,1321.0 811.1,1325.0 804.3,1334.7 744.0,1320.4"/>
<polyline stroke="#f84244" points="260.0,1389.0 270.1,1385.0 280.2,1381.0 290.3,1376.9 300.3,1372.9 310.3,1368.9 320.3,1364.9 330.2,1360.9 340.1,1356.9 349.9,1352.8 359.7,1348.8 369.4,1344.8 378.9,1340.8 388.4,1336.8 397.8,1332.8 407.1,1328.7 416.3,1324.7 425.4,1320.7 434.3,1316.7 443.1,1312.7 451.7,1308.6 460.2,1304.6 468.5,1300.6 476.7,1296.6 484.7,1292.6 492.5,1288.6 500.2,1284.5 507.7,1280.5 515.1,1276.5 522.3,1272.5 529.4,1268.5 536.3,1264.4 543.1,1260.4 549.8,1256.4 556.3,1252.4 562.7,1248.4 569.0,1244.4 575.2,1240.3 581.3,1236.3 587.2,1232.3 593.1,1228.3 598.9,1224.3 604.5,1220.3 610.1,1216.2 615.6,1212.2 620.9,1208.2 626.2,1204.2 631.5,1200.2 636.6,1196.1 641.7,1192.1 646.7,1188.1 651.7,1184.1 656.5,1180.1 661.4,1176.1 666.1,1172.0 670.8,1168.0 675.5,1164.0 680.1,1160.0 684.6,1156.0 689.1,1152.0 693.6,1147.9 698.0,1143.9 702.4,1139.9 706.7,1135.9 711.0,1131.9 715.3,1127.8 719.6,1123.8 723.8,1119.8 728.0,1115.8 732.2,1111.8 736.4,1107.8 740.6,1103.7 744.7,1099.7 748.9,1095.7 753.0,1091.7 757.1,1087.7 761.2,1083.7 765.4,1079.6 769.4,1075.6 773.5,1071.6 777.6,1067.6 781.7,1063.6 785.7,1059.5 789.8,1055.5 793.8,1051.5 797.9,1047.5 801.9,1043.5 805.9,1039.5 809.9,1035.4 813.9,1031.4 817.9,1027.4 821.8,1023.4 825.8,1019.4 829.7,1015.3 833.7,1011.3 837.6,1007.3 841.5,1003.3 845.4,999.3 849.3,995.3 853.2,991.2 857.0,987.2 860.9,983.2 864.7,979.2 868.6,975.2 872.4,971.2 876.2,967.1 880.0,963.1 883.8,959.1 887.5,955.1 891.3,951.1 895.0,947.0 898.8,943.0 902.5,939.0 906.2,935.0 909.9,931.0 913.5,927.0 917.2,922.9 920.9,918.9 924.5,914.9 928.1,910.9 931.7,906.9 935.3,902.9 938.9,898.8 942.5,894.8 946.0,890.8 949.6,886.8 953.1,882.8 956.6,878.7 960.1,874.7 963.6,870.7 967.1,866.7 970.5,862.7 974.0,858.7 977.4,854.6 980.8,850.6 984.2,846.6 987.6,842.6 990.9,838.6 994.3,834.6 997.6,830.5 1000.9,826.5 1004.2,822.5 1007.5,818.5 1010.8,814.5 1014.0,810.4 1017.3,806.4 1020.5,802.4 1023.7,798.4 1026.9,794.4 1030.0,790.4 1033.2,786.3 1036.3,782.3 1039.4,778.3 1042.5,774.3 1045.6,770.3 1048.7,766.2 1051.7,762.2 1054.8,758.2 1057.8,754.2 1060.8,750.2 1063.7,746.2 1066.7,742.1 1069.6,738.1 1072.6,734.1 1075.5,730.1 1078.3,726.1 1081.2,722.1 1084.1,718.0 1086.9,714.0 1089.7,710.0 1098.6,690.0 1101.7,672.0 1108.0,658.0 1200.0,657.5 1202.4,676.7 1201.5,680.7 1200.5,684.7 1199.5,688.7 1198.5,692.7 1197.5,696.7 1196.5,700.7 1195.6,704.8 1194.6,708.8 1193.6,712.8 1192.6,716.8 1191.6,720.8 1190.6,724.8 1189.6,728.8 1188.6,732.8 1187.6,736.8 1186.6,740.8 1185.6,744.8 1184.6,748.8 1183.6,752.9 1182.6,756.9 1181.5,760.9 1180.5,764.9 1179.5,768.9 1178.5,772.9 1177.5,776.9 1176.4,780.9 1175.4,784.9 1174.4,788.9 1173.3,792.9 1172.3,796.9 1171.2,801.0 1170.2,805.0 1169.2,809.0 1168.1,813.0 1167.0,817.0 1166.0,821.0 1164.9,825.0 1163.9,829.0 1162.8,833.0 1161.7,837.0 1160.7,841.0 1159.6,845.0 1158.5,849.0 1157.4,853.1 1156.3,857.1 1155.2,861.1 1154.1,865.1 1153.0,869.1 1151.9,873.1 1150.8,877.1 1149.7,881.1 1148.6,885.1 1147.5,889.1 1146.4,893.1 1145.2,897.1 1144.1,901.2 1143.0,905.2 1141.8,909.2 1140.7,913.2 1139.6,917.2 1138.4,921.2 1137.2,925.2 1136.1,929.2 1134.9,933.2 1133.8,937.2 1132.6,941.2 1131.4,945.2 1130.2,949.3 1129.0,953.3 1127.8,957.3 1126.6,961.3 1125.4,965.3 1124.2,969.3 1123.0,973.3 1121.8,977.3 1120.6,981.3 1119.4,985.3 1118.1,989.3 1116.9,993.3 1115.7,997.4 1114.4,1001.4 1113.2,1005.4 1111.9,1009.4 1110.6,1013.4 1109.4,1017.4 1108.1,1021.4 1106.8,1025.4 1105.5,1029.4 1104.2,1033.4 1102.9,1037.4 1101.6,1041.4 1100.3,1045.4 1099.0,1049.5 1097.7,1053.5 1096.4,1057.5 1095.0,1061.5 1093.7,1065.5 1092.4,1069.5 1091.0,1073.5 1089.7,1077.5 1088.3,1081.5 1086.9,1085.5 1085.5,1089.5 1084.2,1093.5 1082.8,1097.6 1081.4,1101.6 1080.0,1105.6 1078.6,1109.6 1077.2,1113.6 1075.7,1117.6 1074.3,1121.6 1072.9,1125.6 1071.4,1129.6 1070.0,1133.6 1068.5,1137.6 1067.1,1141.6 1065.6,1145.7 1064.1,1149.7 1062.7,1153.7 1061.2,1157.7 1059.7,1161.7 1058.2,1165.7 1056.7,1169.7 1055.1,1173.7 1053.6,1177.7 1052.1,1181.7 1050.5,1185.7 1049.0,1189.7 1047.4,1193.7 1045.9,1197.8 1044.3,1201.8 1042.7,1205.8 1041.2,1209.8 1039.6,1213.8 1038.0,1217.8 1036.3,1221.8 1034.7,1225.8 1033.1,1229.8 1031.5,1233.8 1029.8,1237.8 1028.2,1241.8 1026.5,1245.9 1024.9,1249.9 1023.2,1253.9 1021.5,1257.9 1019.8,1261.9 1018.1,1265.9 1016.4,1269.9 1014.7,1273.9 1013.0,1277.9 1011.2,1281.9 1009.5,1285.9 1007.8,1289.9 1006.0,1294.0 1004.2,1298.0 1002.4,1302.0 1000.7,1306.0 998.9,1310.0 997.1,1314.0 995.3,1318.0 990.5,1328.1 978.0,1334.0 971.0,1326.0 970.8,1336.0"/>
</g>
<rect x="268.75" y="35" width="1801" height="1449" fill="none" stroke="#000" stroke-width="10"/>
<path d="M239.5 1425.3H264 M239.5 1038.9H264 M239.5 652.5H264 M239.5 266.2H264 M254 1232.1H264 M254 845.7H264 M254 459.3H264 M254 72.9H264 M642.0 1489V1511.5 M1109.7 1489V1511.5 M1577.3 1489V1511.5 M2045.0 1489V1511.5 M408.2 1489V1497 M875.8 1489V1497 M1343.5 1489V1497 M1811.2 1489V1497" stroke="#000" stroke-width="10.2" fill="none"/>
<text x="117 158 177.4" y="1448.8" font-size="84">0.0</text>
<text x="117 158 177.4" y="1062.4" font-size="84">0.1</text>
<text x="117 158 177.4" y="676.0" font-size="84">0.2</text>
<text x="117 158 177.4" y="289.7" font-size="84">0.3</text>
<text x="642.0" y="1597" font-size="84" text-anchor="middle">100</text>
<text x="1109.7" y="1597" font-size="84" text-anchor="middle">200</text>
<text x="1577.3" y="1597" font-size="84" text-anchor="middle">300</text>
<text x="2045.0" y="1597" font-size="84" text-anchor="middle">400</text>
<text x="920" y="1723.3" font-size="82.5">Displcement (nm)</text>
<text transform="translate(84.6,759) rotate(-90)" font-size="82.5" text-anchor="middle">Load (mN)</text>
<line x1="314" y1="103.4" x2="444" y2="103.4" stroke="#2eaa68" stroke-width="11" stroke-linecap="round"/>
<text y="122.5" font-size="62"><tspan x="457.5 499.4 540.0 582.3 601.0 640.4 655.7">ALC-TiO</tspan><tspan x="702.3" y="136.5" font-size="39">2</tspan><tspan x="721.1 738.8 769.6" y="122.5">-30</tspan></text>
<line x1="314" y1="188.7" x2="444" y2="188.7" stroke="#b070df" stroke-width="11" stroke-linecap="round"/>
<text y="206.6" font-size="62"><tspan x="457.5 499.4 540.0 582.3 601.0 640.4 655.7">ALC-TiO</tspan><tspan x="702.3" y="220.6" font-size="39">2</tspan><tspan x="721.1 740.5 769.6" y="206.6">-40</tspan></text>
<line x1="314" y1="274.3" x2="444" y2="274.3" stroke="#000000" stroke-width="11" stroke-linecap="round"/>
<text y="292.5" font-size="62"><tspan x="457.5 499.4 540.0 582.3 601.0 640.4 655.7">ALC-TiO</tspan><tspan x="702.3" y="306.5" font-size="39">2</tspan><tspan x="721.1 740.3 769.6" y="292.5">-50</tspan></text>
<line x1="314" y1="359.8" x2="444" y2="359.8" stroke="#f84244" stroke-width="11" stroke-linecap="round"/>
<text y="378.5" font-size="62"><tspan x="457.5 499.4 540.0 582.3 601.0 640.4 655.7">ALC-TiO</tspan><tspan x="702.3" y="392.5" font-size="39">2</tspan><tspan x="721.1 741.5 769.6" y="378.5">-60</tspan></text>
<line x1="314" y1="445.7" x2="444" y2="445.7" stroke="#00cccc" stroke-width="11" stroke-linecap="round"/>
<text x="456.75 500 540 582 600.75" y="464.6" font-size="62">ALC-H</text>
<line x1="314" y1="524.6" x2="444" y2="524.6" stroke="#800000" stroke-width="11" stroke-linecap="round"/>
<text x="457 499.25 541" y="542.7" font-size="62">CDA</text>
<g fill="#f77474" stroke="none">
<rect x="1841.7" y="543.3" width="5.7" height="52"/>
<polygon points="1832.2,593.2 1855.4,593.2 1844.6,639.7"/>
<rect x="1228.9" y="1389" width="5.7" height="76"/>
<polygon points="1220.6,1391.7 1243.4,1391.7 1231.7,1345"/>
<text x="1888" y="610.6" font-size="73">h<tspan font-size="55" dx="2.5" dy="20.4">p</tspan></text>
<text x="1266.5" y="1444" font-size="73">h<tspan font-size="55" dx="0.5" dy="19.3">r</tspan></text>
</g>
</svg></body></html>
